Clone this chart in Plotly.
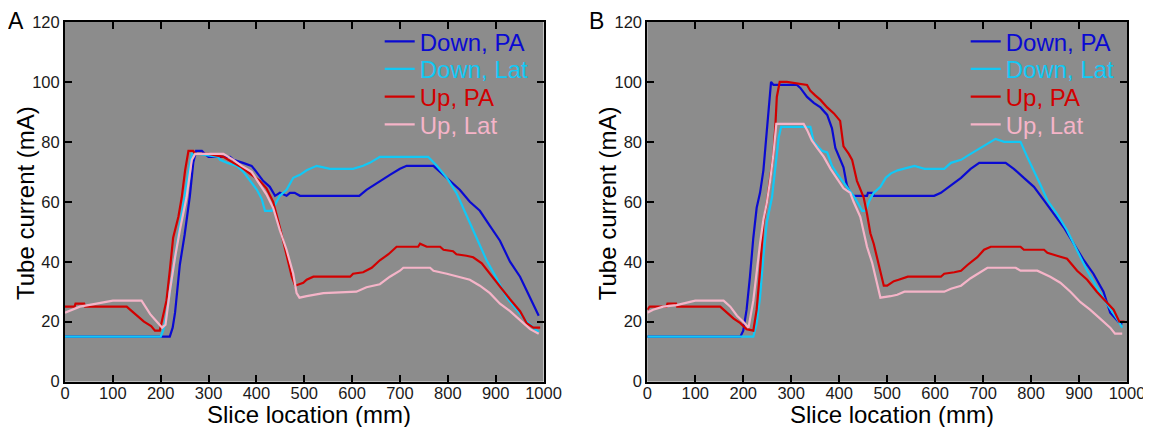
import plotly.graph_objects as go

# ---------------- Data ----------------
series_names = ["Down, PA", "Down, Lat", "Up, PA", "Up, Lat"]
series_colors = ["#0a0ad2", "#12c8f5", "#d20000", "#f5b4c8"]

x_ticks = [0, 100, 200, 300, 400, 500, 600, 700, 800, 900, 1000]
y_ticks = [0, 20, 40, 60, 80, 100, 120]

# Panel A
a_down_pa_x = [0, 219, 225, 230, 240, 250, 261, 268, 274, 286, 292, 300, 345, 352, 372, 390, 400, 414, 428, 439, 449, 463, 470, 480, 491, 615, 630, 658, 679, 700, 714, 770, 784, 805, 825, 846, 867, 888, 909, 930, 951, 972, 990]
a_down_pa_y = [15, 15, 18, 23, 39, 49, 62, 73, 77, 77, 76, 75, 75, 74, 73, 72, 70, 67, 65, 62, 63, 62, 63, 63, 62, 62, 64, 67, 69, 71, 72, 72, 70, 67, 64, 60, 57, 52, 47, 40, 35, 28, 22]

a_down_lat_x = [0, 200, 205, 212, 219, 230, 240, 250, 258, 265, 280, 320, 324, 338, 359, 373, 387, 401, 411, 418, 432, 439, 449, 463, 477, 491, 505, 526, 554, 602, 623, 637, 658, 759, 777, 798, 818, 839, 860, 881, 902, 923, 944, 965, 990]
a_down_lat_y = [15, 15, 17, 22, 30, 42, 52, 62, 70, 76, 76, 75, 74, 73, 72, 70, 67, 64, 61, 57, 57, 59, 62, 64, 68, 69, 70.5, 72, 71, 71, 72, 73, 75, 75, 72, 68, 63, 55.5, 48, 40.5, 34.5, 28, 24, 20, 16.5]

a_up_pa_x = [0, 20, 22, 40, 42, 129, 136, 150, 165, 180, 188, 198, 205, 212, 219, 226, 237, 244, 251, 258, 268, 272, 300, 331, 352, 369, 390, 407, 421, 435, 449, 463, 474, 481, 498, 505, 519, 596, 602, 623, 641, 658, 676, 693, 738, 742, 756, 784, 791, 811, 818, 839, 853, 871, 888, 909, 930, 951, 965, 979, 993]
a_up_pa_y = [25, 25, 26, 26, 25, 25, 24, 22, 20, 18.5, 17, 17, 21.5, 27, 37, 48, 55, 61.5, 70.5, 77, 77, 76, 76, 75, 73, 71.5, 69, 67, 64.5, 60, 51.5, 42.5, 35, 32, 33, 34, 35, 35, 36, 36.5, 38, 40.5, 42.5, 45, 45, 46, 45, 45, 44, 43.5, 42.5, 42, 41.5, 39.5, 36, 31.5, 27.5, 23.5, 19.5, 18, 18]

a_up_lat_x = [0, 17, 31, 66, 100, 160, 178, 192, 203, 210, 219, 230, 240, 254, 265, 272, 331, 352, 369, 390, 407, 421, 435, 449, 463, 477, 484, 490, 505, 540, 609, 630, 658, 679, 700, 707, 763, 770, 798, 825, 846, 867, 888, 909, 930, 951, 972, 990]
a_up_lat_y = [23, 24, 25, 26, 27, 27, 22.5, 20, 18, 19, 30, 41.5, 50.5, 61.5, 74, 76, 76, 74, 72, 70, 66, 62.5, 58, 50.5, 44, 36, 29.5, 28, 28.5, 29.5, 30, 31.5, 32.5, 35, 37, 38, 38, 37, 36, 35, 34, 32, 29.5, 26, 23.5, 20.5, 17.5, 16]

# Panel B
b_down_pa_x = [0, 194, 200, 207, 214, 221, 228, 235, 242, 249, 255, 258, 263, 312, 319, 333, 347, 361, 375, 385, 392, 402, 409, 416, 423, 430, 458, 460, 470, 472, 598, 612, 633, 654, 674, 692, 747, 764, 785, 806, 827, 847, 868, 889, 910, 930, 951, 965, 982, 990]
b_down_pa_y = [15, 15, 17, 24, 35, 48, 58, 63, 70.5, 84, 97, 100, 99, 99, 98, 95, 93, 91.5, 89, 84.5, 78, 74.5, 71.5, 65.5, 63, 62, 62, 63, 63, 62, 62, 63, 65.5, 68, 71, 73, 73, 71, 68, 65, 60.5, 56, 51.5, 46, 40.5, 36, 30, 23, 20, 19]

b_down_lat_x = [0, 221, 228, 235, 242, 249, 260, 267, 274, 279, 340, 347, 364, 375, 385, 395, 402, 416, 430, 441, 448, 455, 462, 472, 486, 497, 508, 522, 557, 578, 619, 633, 654, 674, 695, 716, 726, 744, 778, 792, 806, 820, 834, 854, 875, 896, 917, 937, 958, 979, 990]
b_down_lat_y = [15, 15, 19.5, 28, 41.5, 53, 61.5, 70.5, 81.5, 85, 85, 80, 77, 76.5, 72, 69.5, 68, 65, 62, 59, 57, 57, 60, 63, 65, 68, 69.5, 70.5, 72, 71, 71, 73, 74, 76, 78, 80, 81, 80, 80, 75, 70.5, 65.5, 60.5, 56, 50.5, 44, 37, 31.5, 26, 21, 18]

b_up_pa_x = [0, 5, 40, 42, 60, 62, 152, 166, 180, 194, 207, 221, 228, 235, 242, 249, 256, 263, 267, 270, 276, 291, 333, 340, 350, 361, 375, 389, 402, 409, 420, 427, 437, 444, 451, 458, 465, 472, 479, 486, 493, 500, 514, 524, 543, 612, 619, 640, 654, 668, 688, 702, 716, 778, 785, 827, 834, 854, 875, 896, 917, 937, 958, 972, 984, 995]
b_up_pa_y = [24, 25, 25, 26, 26, 25, 25, 23, 21, 19.5, 17.5, 17, 24, 37, 53, 59.5, 67, 76, 85.5, 95, 100, 100, 99, 97, 95.5, 94, 91.5, 89.5, 87, 78.5, 76, 74, 67, 64, 61.5, 56, 49.5, 46, 41.5, 37, 32, 32, 33.5, 34, 35, 35, 36, 36.5, 37, 39, 41.5, 44, 45, 45, 44, 44, 43, 42, 41, 37, 34, 30, 26.5, 24, 20, 20]

b_up_lat_x = [0, 12, 33, 61, 100, 159, 173, 187, 200, 211, 221, 228, 235, 242, 249, 256, 263, 269, 326, 333, 343, 354, 368, 382, 395, 409, 423, 430, 444, 458, 469, 479, 486, 507, 521, 536, 619, 633, 654, 674, 695, 709, 768, 778, 813, 827, 840, 861, 882, 903, 923, 944, 965, 975, 990]
b_up_lat_y = [23, 24, 25, 25.5, 27, 27, 25, 22, 20, 18, 27, 37, 46, 54, 59.5, 67, 76, 86, 86, 84, 80.5, 78, 75, 71, 68, 64.5, 63, 60, 55, 45, 39.5, 33, 28, 28.5, 29, 30, 30, 31, 32, 34.5, 36.5, 38, 38, 37, 37, 36, 35, 33, 30, 26.5, 24, 21, 18, 16, 16]

x_title = "Slice location (mm)"
y_title = "Tube current (mA)"
panel_labels = ["A", "B"]

# ---------------- Figure ----------------
# The page body has an 8px default margin, so the figure is sized and laid out
# in page pixels minus that offset.
PAGE_W, PAGE_H = 1151, 427
OFF = 8
W, H = PAGE_W - OFF, PAGE_H - OFF
FONT = "Liberation Sans, Arial, Helvetica, sans-serif"


def px(xp):   # page x pixel -> paper fraction
    return (xp - OFF) / W


def py(yp):   # page y pixel -> paper fraction
    return 1 - (yp - OFF) / H


panels = [
    ([a_down_pa_x, a_down_lat_x, a_up_pa_x, a_up_lat_x],
     [a_down_pa_y, a_down_lat_y, a_up_pa_y, a_up_lat_y]),
    ([b_down_pa_x, b_down_lat_x, b_up_pa_x, b_up_lat_x],
     [b_down_pa_y, b_down_lat_y, b_up_pa_y, b_up_lat_y]),
]

# plot areas (page pixels)
plot_left = [65, 647.3]
plot_right = [543.5, 1127]
y_top, y_bot = 22, 381.6

# legend rows (page pixels): row centre y, text-start x per panel
legend_row_y = [41.7, 69.3, 97.0, 124.7]
legend_text_x = [421.7, 1007.7]

fig = go.Figure()
k = 0
for p, (xs, ys) in enumerate(panels):
    sfx = "" if p == 0 else "2"
    for i, (name, color, x, y) in enumerate(zip(series_names, series_colors, xs, ys)):
        k += 1
        lg = "legend" if k == 1 else f"legend{k}"
        fig.add_trace(go.Scatter(
            x=x, y=y, mode="lines",
            line=dict(color=color, width=2.2),
            name=f'<span style="color:{color}">{name}</span>',
            xaxis="x" + sfx, yaxis="y" + sfx,
            legend=lg,
        ))
        fig.update_layout(**{lg: dict(
            bgcolor="rgba(0,0,0,0)", borderwidth=0,
            font=dict(family=FONT, size=24), itemwidth=30,
            xanchor="left", yanchor="middle",
            x=px(legend_text_x[p] - 42), y=py(legend_row_y[i]),
        )})

axis_common = dict(
    showline=True, linecolor="black", linewidth=2, mirror="ticks",
    ticks="inside", ticklen=7, tickwidth=2, tickcolor="black",
    showgrid=False, zeroline=False, automargin=False,
    tickfont=dict(family=FONT, size=16.5, color="#1a1a1a"),
)

dom_y = [py(y_bot), py(y_top)]
for p, sfx in enumerate(("", "2")):
    dom = [px(plot_left[p]), px(plot_right[p])]
    fig.update_layout(**{
        "xaxis" + sfx: dict(axis_common, domain=dom, range=[0, 1000],
                            tickvals=x_ticks, anchor="y" + sfx, ticklabelstandoff=-4),
        "yaxis" + sfx: dict(axis_common, domain=dom_y, range=[0, 120],
                            tickvals=y_ticks, anchor="x" + sfx),
    })
    # axis titles
    fig.add_annotation(text=x_title, x=px((plot_left[p] + plot_right[p]) / 2 + 5),
                       y=py(414), xref="paper", yref="paper",
                       xanchor="center", yanchor="middle", showarrow=False,
                       font=dict(family=FONT, size=24, color="black"))
    fig.add_annotation(text=y_title, x=px(plot_left[p] - 40), y=py(203),
                       xref="paper", yref="paper", textangle=-90,
                       xanchor="center", yanchor="middle", showarrow=False,
                       font=dict(family=FONT, size=24, color="black"))

for lab, xc in zip(panel_labels, (16, 596)):
    fig.add_annotation(text=lab, x=px(xc), y=py(21), xref="paper", yref="paper",
                       xanchor="center", yanchor="middle", showarrow=False,
                       font=dict(family=FONT, size=23, color="black"))

fig.update_layout(
    width=W, height=H,
    margin=dict(l=0, r=0, t=0, b=0),
    paper_bgcolor="white", plot_bgcolor="#8c8c8c",
    showlegend=True,
)

fig.write_html("out.html")
